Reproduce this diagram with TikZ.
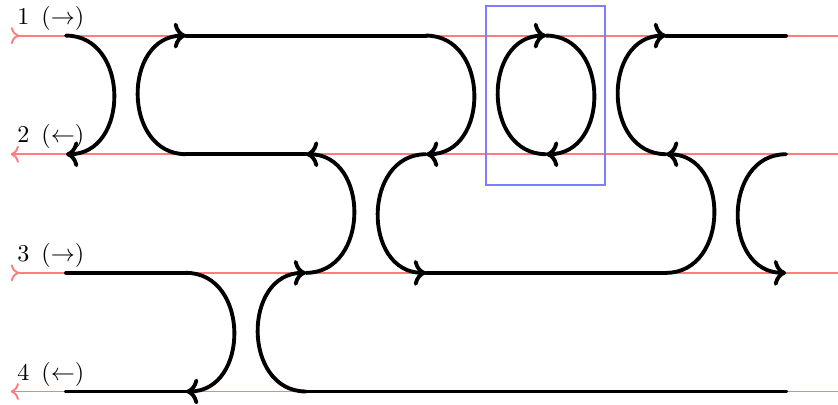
\documentclass[tikz,border=0pt]{standalone}
\usepackage{amsmath,amssymb}
\usepackage{tikz}
\usetikzlibrary{arrows.meta,positioning}
\usepackage{xcolor}
\definecolor{rowred}{RGB}{255,125,125}
\definecolor{boxblue}{RGB}{125,125,255}

\begin{document}
\begin{tikzpicture}[
    x=1.75cm,y=1.73cm,
    rowline/.style={draw=rowred,thick},
    rowlabel/.style={anchor=south west,inner xsep=2.5pt,inner ysep=2pt},
    strand/.style={ultra thick,line cap=round},
    bulgeright/.style={out=0,in=0,looseness=1.38},
    bulgeleft/.style={out=180,in=180,looseness=1.38},
    loopbox/.style={draw=boxblue,thick}
]
\useasboundingbox (0,0) rectangle (6.983,-3.412);
% grid points: p<row><column>
\foreach \r in {1,...,4}
  \foreach \c in {0,...,6}
    \coordinate (p\r\c) at (0.55+\c,0.7-\r);
% rows
\foreach \r in {1,...,4}{
  \coordinate (w\r) at (0.09,0.7-\r);
  \coordinate (e\r) at (7.05,0.7-\r);
}
\draw[rowline,>->] (w1) -- (e1);
\draw[rowline,<-<] (w2) -- (e2);
\draw[rowline,>->] (w3) -- (e3);
\draw[rowline,<-<] (w4) -- (e4);
\node[rowlabel] (l1) at (w1) {1\enspace($\rightarrow$)};
\node[rowlabel] (l2) at (w2) {2\enspace($\leftarrow$)};
\node[rowlabel] (l3) at (w3) {3\enspace($\rightarrow$)};
\node[rowlabel] (l4) at (w4) {4\enspace($\leftarrow$)};
% closed loop
\node[loopbox,minimum width=0.99*1.75cm,minimum height=1.51*1.73cm,inner sep=0pt] (box) at (4.545,-0.805) {};
\draw[strand,->] (p14) to[bulgeright] (p24);
\draw[strand,->] (p24) to[bulgeleft] (p14);
% strands
\draw[strand,->] (p10) to[bulgeright] (p20);
\draw[strand] (p30) -- (p31);
\draw[strand,->] (p31) to[bulgeright] (p41);
\draw[strand] (p41) -- (p40);
\draw[strand] (p46) -- (p42);
\draw[strand,->] (p42) to[bulgeleft] (p32);
\draw[strand,->] (p32) to[bulgeright] (p22);
\draw[strand] (p22) -- (p21);
\draw[strand,->] (p21) to[bulgeleft] (p11);
\draw[strand] (p11) -- (p13);
\draw[strand,->] (p13) to[bulgeright] (p23);
\draw[strand,->] (p23) to[bulgeleft] (p33);
\draw[strand] (p33) -- (p35);
\draw[strand,->] (p35) to[bulgeright] (p25);
\draw[strand,->] (p25) to[bulgeleft] (p15);
\draw[strand] (p15) -- (p16);
\draw[strand,->] (p26) to[bulgeleft] (p36);
\end{tikzpicture}
\end{document}
